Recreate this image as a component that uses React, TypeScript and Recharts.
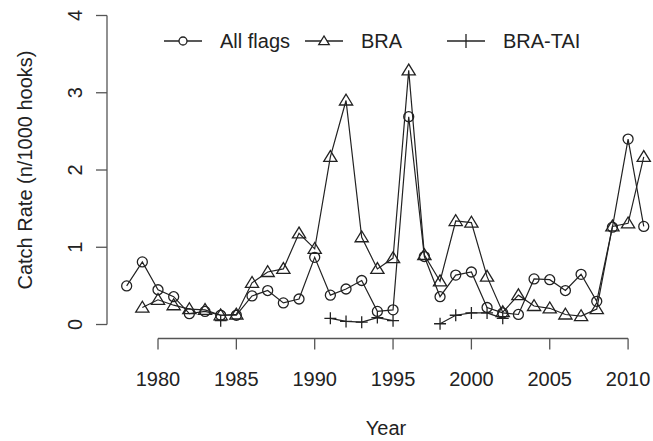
import { LineChart, Line, XAxis, YAxis, ReferenceLine, Label } from "recharts";

const years = [
  1978, 1979, 1980, 1981, 1982, 1983, 1984, 1985, 1986, 1987, 1988, 1989,
  1990, 1991, 1992, 1993, 1994, 1995, 1996, 1997, 1998, 1999, 2000, 2001,
  2002, 2003, 2004, 2005, 2006, 2007, 2008, 2009, 2010, 2011,
];

const allFlags = [
  0.5, 0.81, 0.45, 0.36, 0.14, 0.17, 0.12, 0.12, 0.37, 0.44, 0.28, 0.33,
  0.87, 0.38, 0.46, 0.57, 0.17, 0.19, 2.69, 0.88, 0.36, 0.64, 0.68, 0.22,
  0.15, 0.13, 0.59, 0.58, 0.44, 0.65, 0.3, 1.26, 2.4, 1.27,
];

const bra = [
  null, 0.22, 0.32, 0.25, 0.2, 0.19, 0.12, 0.13, 0.54, 0.68, 0.72, 1.18,
  0.98, 2.17, 2.9, 1.13, 0.72, 0.86, 3.29, 0.9, 0.56, 1.34, 1.32, 0.62,
  0.16, 0.38, 0.24, 0.21, 0.13, 0.11, 0.2, 1.27, 1.31, 2.17,
];

const braTai = [
  null, null, null, null, null, null, 0.05, null, null, null, null, null,
  null, 0.08, 0.04, 0.03, 0.09, 0.05, null, null, 0.01, 0.12, 0.15, 0.15,
  0.08, null, null, null, null, null, null, null, null, null,
];

const xTicks = [1980, 1985, 1990, 1995, 2000, 2005, 2010];
const yTicks = [0, 1, 2, 3, 4];

const data = years.map((year, i) => ({
  year,
  all: allFlags[i],
  bra: bra[i],
  tai: braTai[i],
}));

const X_MIN = 1976.745;
const X_MAX = 2011.59;
const Y_MIN = -0.181;
const Y_MAX = 4;

const INK = "#222";
const AXIS = "#555";
const FONT = "'Liberation Sans', Arial, sans-serif";

const circleDot = (p: any) => {
  const { cx, cy, value, index } = p;
  if (value == null || cy == null) return <g key={`c${index}`} />;
  return <circle key={`c${index}`} cx={cx} cy={cy} r={5} fill="none" stroke={INK} strokeWidth={1.3} />;
};

const triPath = (cx: number, cy: number, s: number) =>
  `M${cx},${cy - s} L${cx - s * 1.05},${cy + s * 0.72} L${cx + s * 1.05},${cy + s * 0.72} Z`;

const triangleDot = (p: any) => {
  const { cx, cy, value, index } = p;
  if (value == null || cy == null) return <g key={`t${index}`} />;
  return <path key={`t${index}`} d={triPath(cx, cy, 6.3)} fill="none" stroke={INK} strokeWidth={1.3} />;
};

const crossDot = (p: any) => {
  const { cx, cy, value, index } = p;
  if (value == null || cy == null) return <g key={`x${index}`} />;
  return (
    <path
      key={`x${index}`}
      d={`M${cx - 6},${cy} L${cx + 6},${cy} M${cx},${cy - 6} L${cx},${cy + 6}`}
      stroke={INK}
      strokeWidth={1.3}
    />
  );
};

const XTick = ({ x, payload }: any) => (
  <text x={x} y={386} textAnchor="middle" fontSize={20} fill={INK} fontFamily={FONT}>
    {payload.value}
  </text>
);

const YTick = ({ y, payload }: any) => (
  <text
    x={82}
    y={y}
    textAnchor="middle"
    fontSize={20}
    fill={INK}
    fontFamily={FONT}
    transform={`rotate(-90 82 ${y})`}
  >
    {payload.value}
  </text>
);

const XTitle = () => (
  <text x={386} y={435} textAnchor="middle" fontSize={20} fill={INK} fontFamily={FONT}>
    Year
  </text>
);

const YTitle = () => (
  <text
    x={32}
    y={170}
    textAnchor="middle"
    fontSize={20}
    fill={INK}
    fontFamily={FONT}
    transform="rotate(-90 32 170)"
  >
    Catch Rate (n/1000 hooks)
  </text>
);

const legendItems = [
  { name: "All flags", lx: 164, tx: 220, kind: "circle" },
  { name: "BRA", lx: 305, tx: 361, kind: "tri" },
  { name: "BRA-TAI", lx: 447, tx: 503, kind: "cross" },
];

const LegendOverlay = () => (
  <svg width={653} height={70} style={{ position: "absolute", left: 0, top: 0 }}>
    {legendItems.map((it) => {
      const cx = it.lx + 19;
      const cy = 41;
      return (
        <g key={it.name}>
          <line x1={it.lx} x2={it.lx + 38} y1={cy} y2={cy} stroke={INK} strokeWidth={1.3} />
          {it.kind === "circle" && (
            <circle cx={cx} cy={cy} r={4} fill="#fff" stroke={INK} strokeWidth={1.3} />
          )}
          {it.kind === "tri" && (
            <path d={triPath(cx, cy, 5)} fill="#fff" stroke={INK} strokeWidth={1.3} />
          )}
          {it.kind === "cross" && (
            <path d={`M${cx},${cy - 7} L${cx},${cy + 7}`} stroke={INK} strokeWidth={1.3} />
          )}
          <text x={it.tx} y={cy + 7} fontSize={20} fill={INK} fontFamily={FONT}>
            {it.name}
          </text>
        </g>
      );
    })}
  </svg>
);

export default function App() {
  return (
    <div style={{ position: "absolute", left: 0, top: 0, width: 653, height: 441, background: "#fff" }}>
      <LineChart width={653} height={441} data={data} margin={{ top: 15.5, right: 0, left: 0, bottom: 0 }}>
        <XAxis
          dataKey="year"
          type="number"
          domain={[X_MIN, X_MAX]}
          ticks={xTicks}
          allowDataOverflow
          axisLine={false}
          tickSize={11}
          tickLine={{ stroke: AXIS, strokeWidth: 1.3 }}
          tick={<XTick />}
          height={102.5}
        >
          <Label content={<XTitle />} />
        </XAxis>
        <YAxis
          type="number"
          domain={[Y_MIN, Y_MAX]}
          ticks={yTicks}
          allowDataOverflow
          axisLine={false}
          tickSize={11}
          tickLine={{ stroke: AXIS, strokeWidth: 1.3 }}
          tick={<YTick />}
          width={107}
        >
          <Label content={<YTitle />} />
        </YAxis>
        <ReferenceLine
          segment={[{ x: 1980, y: Y_MIN }, { x: 2010, y: Y_MIN }]}
          stroke={AXIS}
          strokeWidth={1.3}
          ifOverflow="visible"
        />
        <ReferenceLine
          segment={[{ x: X_MIN, y: 0 }, { x: X_MIN, y: 4 }]}
          stroke={AXIS}
          strokeWidth={1.3}
          ifOverflow="visible"
        />
        <Line dataKey="all" name="All flags" stroke={INK} strokeWidth={1.2} dot={circleDot} isAnimationActive={false} />
        <Line dataKey="bra" name="BRA" stroke={INK} strokeWidth={1.2} dot={triangleDot} isAnimationActive={false} />
        <Line dataKey="tai" name="BRA-TAI" stroke={INK} strokeWidth={1.2} dot={crossDot} isAnimationActive={false} />
      </LineChart>
      <LegendOverlay />
    </div>
  );
}
